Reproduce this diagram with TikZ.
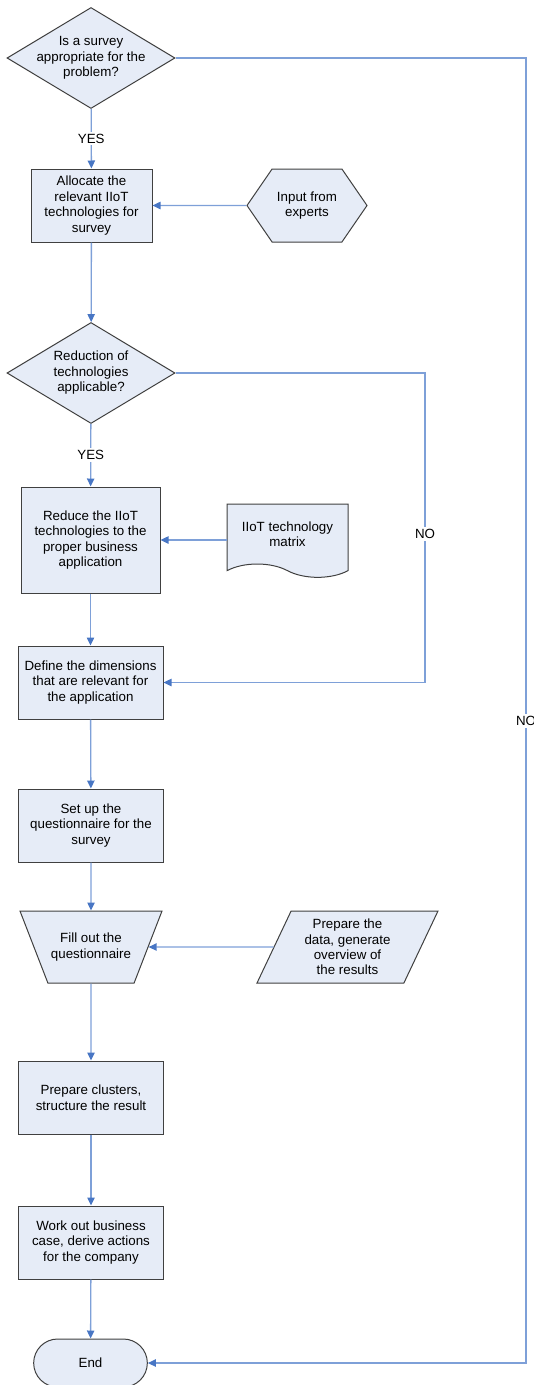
\documentclass[tikz,border=0pt]{standalone}
\usepackage{fontspec}
\setmainfont{Liberation Sans}
\usetikzlibrary{shapes.geometric, shapes.symbols, shapes.misc, arrows.meta}

\definecolor{caixafill}{RGB}{230,236,247}
\definecolor{caixaline}{RGB}{64,64,64}
\definecolor{fluxocor}{RGB}{126,160,216}
\definecolor{pontacor}{RGB}{72,118,196}

\begin{document}
\begin{tikzpicture}[x=0.75pt, y=-0.75pt, font=\fontsize{10}{11.6}\selectfont,
    forma/.style={draw=caixaline, fill=caixafill, line width=0.75pt, align=center, inner sep=2pt},
    processo/.style={forma, rectangle, minimum width=108.75pt, minimum height=54.75pt},
    decisao/.style={forma, diamond, aspect=1.66, inner sep=-6pt, minimum width=126pt, minimum height=75.75pt},
    fluxo/.style={draw=fluxocor, line width=1pt, -{Triangle[length=6pt, width=5.5pt, color=pontacor, fill=pontacor]}},
    rotulo/.style={fill=white, inner sep=1.5pt}]

        \useasboundingbox (0,0) rectangle (534,1385);

        % Primeira decisao
        \node[decisao] (d1) at (91,58) {Is a survey\\appropriate for the\\problem?};
        \node[processo, minimum width=90.75pt] (b1) at (91.5,205.5) {Allocate the\\relevant IIoT\\technologies for\\survey};
        \node[forma, signal, signal to=west and east, signal pointer angle=111, minimum width=90pt, minimum height=54.75pt] (hex) at (307,205.5) {Input from\\experts};

        % Segunda decisao
        \node[decisao] (d2) at (91,373) {Reduction of\\technologies\\applicable?};
        \node[processo, minimum width=104.25pt, minimum height=79.5pt] (b2) at (90.5,540) {Reduce the IIoT\\technologies to the\\proper business\\application};
        \node[forma, tape, tape bend top=none, tape bend bottom=out and in, tape bend height=10pt, minimum width=90.75pt, minimum height=55pt] (doc) at (287.5,534) {IIoT technology\\matrix};

        % Questionario
        \node[processo] (b3) at (90.5,682.5) {Define the dimensions\\that are relevant for\\the application};
        \node[processo] (b4) at (91,825.5) {Set up the\\questionnaire for the\\survey};
        \node[forma, trapezium, shape border rotate=180, trapezium left angle=50, trapezium right angle=50, trapezium stretches body, minimum width=106.5pt, minimum height=54pt] (trap) at (91,947) {Fill out the\\questionnaire};
        \node[forma, trapezium, trapezium left angle=61, trapezium right angle=119, trapezium stretches body, minimum width=135.75pt, minimum height=54pt] (par) at (347.5,947) {Prepare the\\data, generate\\overview of\\the results};

        % Resultado
        \node[processo] (b5) at (91,1097.5) {Prepare clusters,\\structure the result};
        \node[processo] (b6) at (91,1242.5) {Work out business\\case, derive actions\\for the company};
        \node[forma, rounded rectangle, minimum width=89.25pt, minimum height=36pt] (fim) at (90.5,1363) {End};

        \coordinate (c1) at (526,58);
        \coordinate (c2) at (425,373);

        \draw[fluxo] (d1) -- node[rotulo] {YES} (b1);
        \draw[fluxo] (hex) -- (b1);
        \draw[fluxo] (b1) -- (d2);
        \draw[fluxo] (d2) -- node[rotulo] {YES} (b2);
        \draw[fluxo] (doc.west |- b2.east) -- (b2.east);
        \draw[fluxo] (d2.east) -- (c2) |- node[rotulo, pos=0.26] {NO} (b3.east);
        \draw[fluxo] (b2) -- (b3);
        \draw[fluxo] (b3) -- (b4);
        \draw[fluxo] (b4) -- (trap);
        \draw[fluxo] (par) -- (trap);
        \draw[fluxo] (trap) -- (b5);
        \draw[fluxo] (b5) -- (b6);
        \draw[fluxo] (b6) -- (fim);
        \draw[fluxo] (d1.east) -- (c1) |- node[rotulo, pos=0.254] {NO} (fim.east);
    \end{tikzpicture}
\end{document}
